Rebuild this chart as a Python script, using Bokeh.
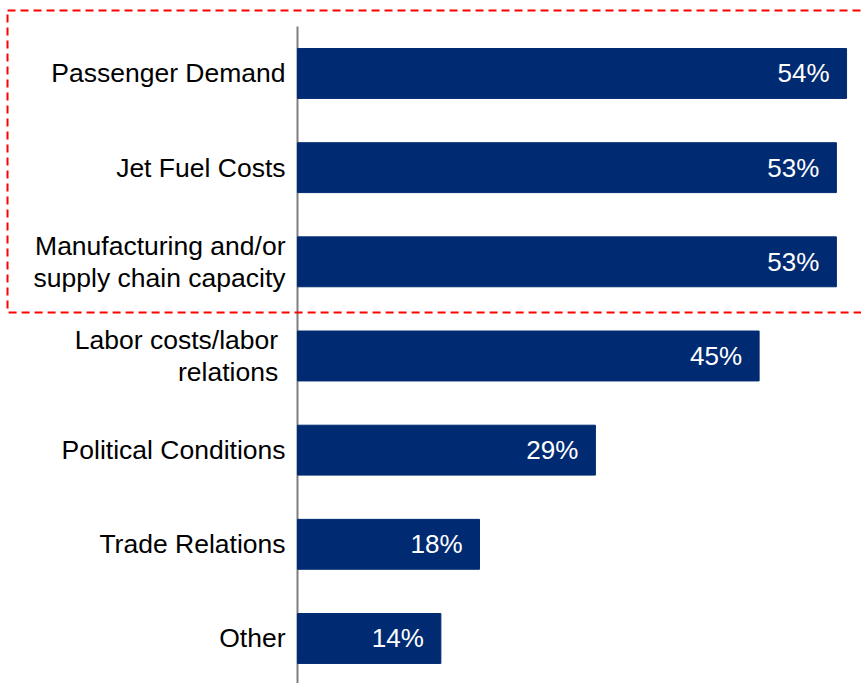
from bokeh.plotting import figure
from bokeh.models import ColumnDataSource, Range1d, BoxAnnotation
from bokeh.core.properties import value
from bokeh.embed import file_html
from bokeh.resources import INLINE

# ---- data ----
categories = [
    "Passenger Demand",
    "Jet Fuel Costs",
    "Manufacturing and/or\nsupply chain capacity",
    "Labor costs/labor\u00a0\nrelations\u00a0",
    "Political Conditions",
    "Trade Relations",
    "Other",
]
values = [54, 53, 53, 45.4, 29.3, 17.9, 14.1]
value_labels = [f"{round(v)}%" for v in values]

n = len(categories)
ypos = [-i for i in range(n)]

src = ColumnDataSource(dict(y=ypos, v=values, cat=categories, vl=value_labels))

p = figure(
    width=861, height=683,
    x_range=Range1d(-29.21, 55.47),
    y_range=Range1d(-6.478, 0.775),
    output_backend="svg", toolbar_location=None,
    min_border=0, x_axis_location=None, y_axis_location=None,
)
p.grid.visible = False
p.outline_line_color = None
p.background_fill_color = "white"
p.border_fill_color = "white"

FONT = value("Liberation Sans")

# highlight box (red dashed)
box = BoxAnnotation(left=-28.52, right=60, top=0.669, bottom=-2.538,
                    fill_color=None, fill_alpha=0,
                    line_color="#ff0000", line_alpha=1.0,
                    line_width=2, line_dash="8 5")
p.add_layout(box)

# vertical axis line
p.segment(x0=0, y0=0.5, x1=0, y1=-7, line_color="#7f7f7f", line_width=2)

# bars
p.hbar(y="y", left=0, right="v", height=0.53, source=src,
       fill_color="#002b72", line_color="#002b72", line_width=1)

# category labels
p.text(x=0, y="y", text="cat", source=src, text_align="right",
       text_baseline="middle", x_offset=-12, text_font=FONT,
       text_font_size="26.5px", text_color="black", text_line_height=1.05)

# value labels
p.text(x="v", y="y", text="vl", source=src, text_align="right",
       text_baseline="middle", x_offset=-17, text_font=FONT,
       text_font_size="26px", text_color="white")

open("out.html", "w").write(file_html(p, INLINE))
